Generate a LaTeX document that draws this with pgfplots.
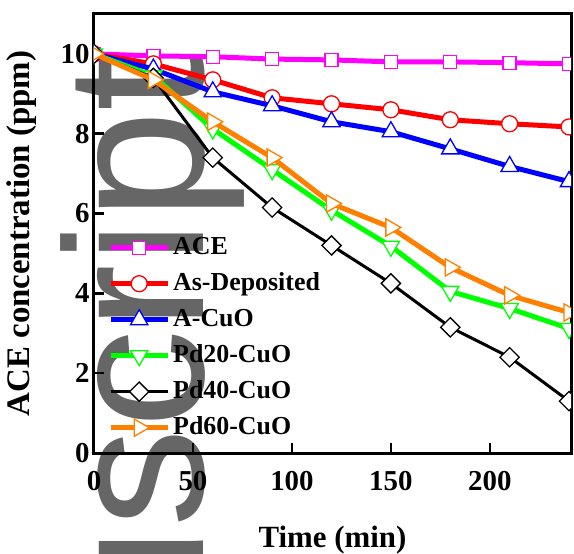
\documentclass[border=0pt]{standalone}
\usepackage{pgfplots}
\pgfplotsset{compat=1.18}
\usepackage{fontspec}
\setmainfont{Liberation Serif}
\newfontfamily\wmfont{Liberation Sans}
\definecolor{cMag}{RGB}{255,0,255}
\definecolor{cRed}{RGB}{255,0,0}
\definecolor{cBlue}{RGB}{0,0,255}
\definecolor{cGreen}{RGB}{0,255,0}
\definecolor{cOrange}{RGB}{255,128,0}
\definecolor{wm}{RGB}{102,102,102}
\begin{document}
\begin{tikzpicture}
% watermark (behind the plot)
\node[anchor=base east, rotate=90, inner sep=0pt, text=wm,
      font=\wmfont\fontsize{198}{198}\selectfont] at (109bp,397bp) {uscript};
\begin{axis}[
  scale only axis,
  width=477bp, height=439bp,
  xmin=0, xmax=241, ymin=0, ymax=11,
  xtick={0,50,100,150,200}, ytick={0,2,4,6,8,10},
  axis line style={line width=3bp},
  tick style={line width=2.5bp, black},
  major tick length=10bp,
  tick align=inside,
  xtick pos=bottom, ytick pos=left,
  minor tick num=0,
  clip mode=individual,
  clip marker paths=true,
  /pgf/number format/assume math mode=true,
  ticklabel style={font=\fontsize{29}{30}\selectfont\bfseries},
  xticklabel style={yshift=-15bp},
  yticklabel style={xshift=-1bp},
  xlabel={Time (min)},
  ylabel={ACE concentration (ppm)},
  xlabel style={font=\fontsize{31}{32}\selectfont\bfseries, yshift=-28bp},
  ylabel style={font=\fontsize{33}{34}\selectfont\bfseries, yshift=17bp},
  legend cell align=left,
  legend style={draw=none, fill=none, inner sep=0pt, at={(14bp,217bp)}, anchor=north west,
    font=\fontsize{26}{27}\selectfont\bfseries,
    nodes={inner sep=0pt, text height=18bp, text depth=5bp},
    row sep=13bp, column sep=3bp},
  legend image code/.code={
    \draw[mark repeat=2,mark phase=2,#1] plot coordinates {(0bp,0bp)(28.5bp,0bp)(57bp,0bp)};},
]
\addplot[cMag, line width=5bp, mark=square*, mark size=6.5bp, mark options={draw=cMag, fill=white, solid, line width=1.3bp}] coordinates {
(0,10) (30,9.95) (60,9.93) (90,9.87) (120,9.85) (150,9.80) (180,9.80) (210,9.78) (240,9.75)};
\addlegendentry{ACE}
\addplot[cRed, line width=5bp, mark=*, mark size=8bp, mark options={draw=cRed, fill=white, solid, line width=1.3bp}] coordinates {
(0,10) (30,9.75) (60,9.35) (90,8.9) (120,8.75) (150,8.6) (180,8.35) (210,8.25) (240,8.17)};
\addlegendentry{As-Deposited}
\addplot[cBlue, line width=5bp, mark=triangle*, mark size=10bp, mark options={draw=cBlue, fill=white, solid, line width=1.3bp}] coordinates {
(0,10) (30,9.62) (60,9.05) (90,8.7) (120,8.3) (150,8.05) (180,7.62) (210,7.18) (240,6.8)};
\addlegendentry{A-CuO}
\addplot[cGreen, line width=5bp, mark=triangle*, mark size=10bp, mark options={draw=cGreen, fill=white, solid, line width=1.3bp, rotate=180}] coordinates {
(0,10) (30,9.45) (60,8.12) (90,7.1) (120,6.08) (150,5.18) (180,4.05) (210,3.62) (240,3.12)};
\addlegendentry{Pd20-CuO}
\addplot[black, line width=3bp, mark=square*, mark size=6.8bp, mark options={draw=black, fill=white, solid, line width=1.3bp, rotate=45}] coordinates {
(0,10) (30,9.4) (60,7.4) (90,6.15) (120,5.2) (150,4.25) (180,3.15) (210,2.4) (240,1.3)};
\addlegendentry{Pd40-CuO}
\addplot[cOrange, line width=5bp, mark=triangle*, mark size=10bp, mark options={draw=cOrange, fill=white, solid, line width=1.3bp, rotate=-90}] coordinates {
(0,10) (30,9.35) (60,8.3) (90,7.4) (120,6.25) (150,5.65) (180,4.65) (210,3.95) (240,3.52)};
\addlegendentry{Pd60-CuO}
\end{axis}
\pgfresetboundingbox
\path[use as bounding box] (-94bp,-101bp) rectangle (480bp,453bp);
\end{tikzpicture}
\end{document}
